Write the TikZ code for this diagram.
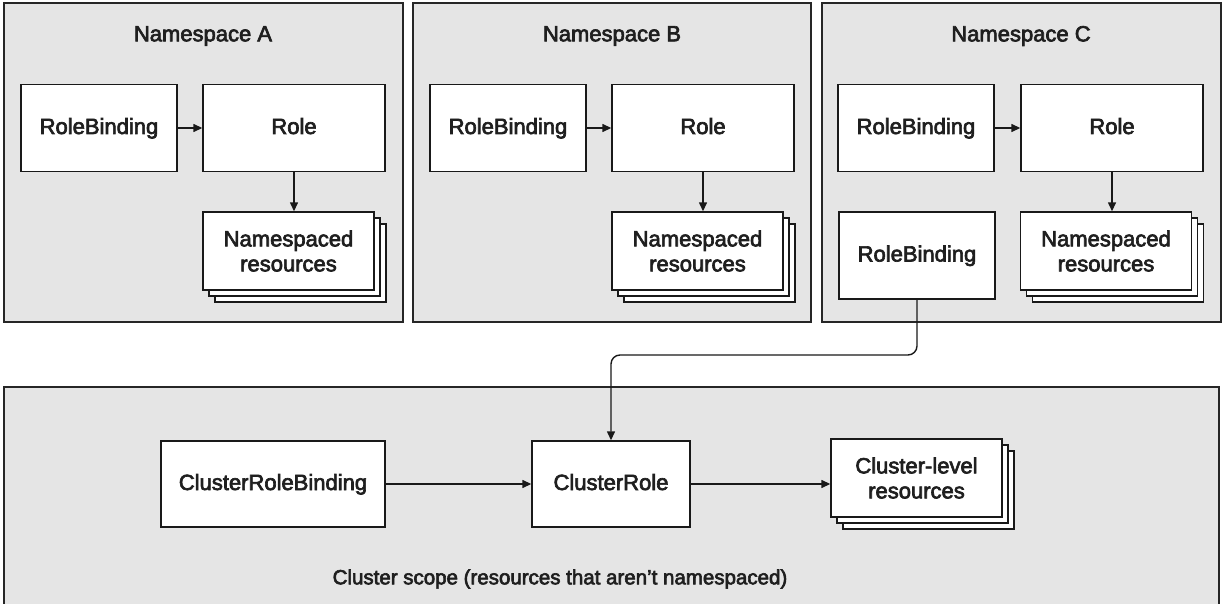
\documentclass[tikz,border=0pt]{standalone}
\usepackage{fontspec}
\setmainfont[FakeBold=3]{Liberation Sans}
\usetikzlibrary{arrows.meta,shadows}
\begin{document}
\begin{tikzpicture}[x=1pt,y=-1pt,
  region/.style={draw=black!85, fill=black!10, line width=1.4pt},
  box/.style={draw=black!90, fill=white, line width=1.4pt, inner sep=0pt,
    text=black!88, font=\fontsize{22}{25}\selectfont, align=center},
  onebox/.style={box, text height=16pt, text depth=4pt},
  stackbox/.style={box, double copy shadow={shadow xshift=6pt, shadow yshift=-6pt,
    fill=white, draw=black!90, line width=1.4pt}},
  title/.style={text=black!88, font=\fontsize{22}{25}\selectfont},
  arr/.style={-{Triangle[length=9pt,width=8pt]}, line width=1.4pt, draw=black!90}
]
\useasboundingbox (0,0) rectangle (1225,604);
% regions
\draw[region] (4,3) rectangle (403,322);
\draw[region] (413,3) rectangle (811,322);
\draw[region] (822,3) rectangle (1221,322);
\draw[region] (4,387) rectangle (1219,610);
% titles
\node[title] (tA) at (203,36) {Namespace A};
\node[title] (tB) at (612,36) {Namespace B};
\node[title] (tC) at (1021,36) {Namespace C};
\node[title, font=\fontsize{20.5}{24}\selectfont] (tCl) at (560,579) {Cluster scope (resources that aren’t namespaced)};
% Namespace A
\node[onebox, minimum width=156pt, minimum height=87pt] (rbA) at (99,128) {RoleBinding};
\node[onebox, minimum width=182pt, minimum height=87pt] (roA) at (294,128) {Role};
\node[stackbox, minimum width=171pt, minimum height=78pt] (resA) at (288.5,251) {Namespaced\\resources};
% Namespace B
\node[onebox, minimum width=156pt, minimum height=87pt] (rbB) at (508,128) {RoleBinding};
\node[onebox, minimum width=182pt, minimum height=87pt] (roB) at (703,128) {Role};
\node[stackbox, minimum width=171pt, minimum height=78pt] (resB) at (697.5,251) {Namespaced\\resources};
% Namespace C
\node[onebox, minimum width=156pt, minimum height=87pt] (rbC) at (916,128) {RoleBinding};
\node[onebox, minimum width=182pt, minimum height=87pt] (roC) at (1112,128) {Role};
\node[stackbox, minimum width=171pt, minimum height=78pt] (resC) at (1106,251) {Namespaced\\resources};
\node[onebox, minimum width=156pt, minimum height=87pt] (rbC2) at (917,255.5) {RoleBinding};
% Cluster
\node[onebox, minimum width=224pt, minimum height=86pt] (crb) at (273,484) {ClusterRoleBinding};
\node[onebox, minimum width=158pt, minimum height=86pt] (cr) at (611,484) {ClusterRole};
\node[stackbox, minimum width=171pt, minimum height=78pt] (clr) at (916.5,478) {Cluster-level\\resources};
% connectors
\foreach \n in {A,B,C}{
  \draw[arr] (rb\n.east) -- (ro\n.west);
  \draw[arr] (ro\n.south) -- (ro\n.south |- res\n.north);
}
\draw[arr] (crb.east) -- (cr.west);
\draw[arr] (cr.east) -- (cr.east -| clr.west);
\coordinate (bend) at (914,355);
\draw[arr, rounded corners=9pt] (rbC2.south) -- (rbC2.south |- bend) -| (cr.north);
\end{tikzpicture}
\end{document}
